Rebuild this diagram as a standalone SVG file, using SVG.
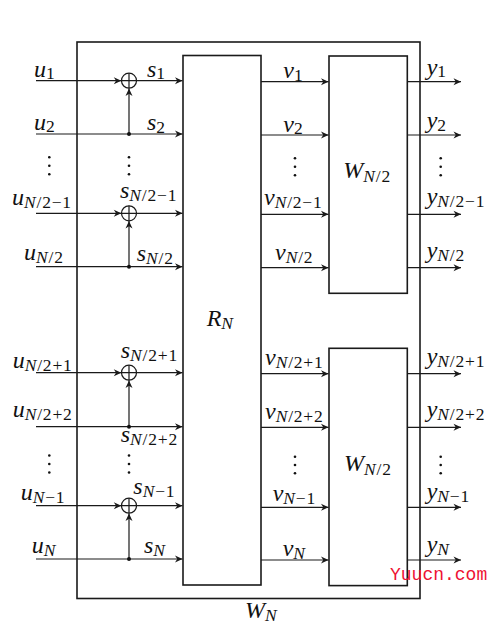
<svg xmlns="http://www.w3.org/2000/svg" width="499" height="629" viewBox="0 0 499 629">
<style>
.box{fill:none;stroke:#1a1a1a;stroke-width:1.6}
.ln{fill:none;stroke:#1a1a1a;stroke-width:1.2}
.ar{marker-end:url(#arr)}
text.t{font-family:'Liberation Serif',serif;font-size:24px;font-style:italic;fill:#111}
tspan.s{font-size:17.5px;font-style:normal;letter-spacing:0.8px}
tspan.si{font-size:17.5px;font-style:italic;letter-spacing:0.8px}
.dot{fill:#111}
text.wm{font-family:'Liberation Mono',monospace;font-size:18px;fill:#ee1133}
</style>
<defs>
<marker id="arr" markerUnits="userSpaceOnUse" markerWidth="10" markerHeight="10" viewBox="-7 -4 8 8" refX="0" refY="0" orient="auto">
<path d="M0,0 L-6,-2.8 L-4.2,0 L-6,2.8 Z" fill="#1a1a1a"/>
</marker>
</defs>

<g id="WN">
<rect class="box" x="77" y="42" width="343" height="556.5"/>
<text class="t" x="245" y="618">W<tspan class="si" dy="3">N</tspan></text>
</g>
<g id="RN">
<rect class="box" x="183" y="55.5" width="78" height="529.5"/>
<text class="t" x="206.7" y="326">R<tspan class="si" dy="3">N</tspan></text>
</g>
<g id="W1">
<rect class="box" x="329" y="56" width="78.3" height="237.3"/>
<text class="t" x="343.3" y="178.3">W<tspan class="si" dy="4">N</tspan><tspan class="s">/2</tspan></text>
</g>
<g id="W2">
<rect class="box" x="329" y="348.3" width="78.3" height="237.3"/>
<text class="t" x="344" y="471">W<tspan class="si" dy="4">N</tspan><tspan class="s">/2</tspan></text>
</g>

<g id="xor1"><circle class="ln" cx="129" cy="80.7" r="7.5"/><path class="ln" d="M121.5,80.7 H136.5 M129,73.2 V88.2"/></g>
<g id="xor2"><circle class="ln" cx="129" cy="213.3" r="7.5"/><path class="ln" d="M121.5,213.3 H136.5 M129,205.8 V220.8"/></g>
<g id="xor3"><circle class="ln" cx="129" cy="372.7" r="7.5"/><path class="ln" d="M121.5,372.7 H136.5 M129,365.2 V380.2"/></g>
<g id="xor4"><circle class="ln" cx="129" cy="505.7" r="7.5"/><path class="ln" d="M121.5,505.7 H136.5 M129,498.2 V513.2"/></g>

<g id="connectors">
<path class="ln ar" d="M36,80.7 H121.3"/>
<path class="ln ar" d="M136.5,80.7 H182.5"/>
<path class="ln ar" d="M36,134 H182.5"/>
<path class="ln ar" d="M129,134 V88.4"/>
<circle class="dot" cx="129" cy="134" r="2"/>

<path class="ln ar" d="M36,213.3 H121.3"/>
<path class="ln ar" d="M136.5,213.3 H182.5"/>
<path class="ln ar" d="M36,266.7 H182.5"/>
<path class="ln ar" d="M129,266.7 V221"/>
<circle class="dot" cx="129" cy="266.7" r="2"/>

<path class="ln ar" d="M36,372.7 H121.3"/>
<path class="ln ar" d="M136.5,372.7 H182.5"/>
<path class="ln ar" d="M36,426.7 H182.5"/>
<path class="ln ar" d="M129,426.7 V380.4"/>
<circle class="dot" cx="129" cy="426.7" r="2"/>

<path class="ln ar" d="M36,505.7 H121.3"/>
<path class="ln ar" d="M136.5,505.7 H182.5"/>
<path class="ln ar" d="M36,559 H182.5"/>
<path class="ln ar" d="M129,559 V513.4"/>
<circle class="dot" cx="129" cy="559" r="2"/>

<path class="ln ar" d="M261,81.7 H328.5"/>
<path class="ln ar" d="M261,135 H328.5"/>
<path class="ln ar" d="M261,214.3 H328.5"/>
<path class="ln ar" d="M261,267.7 H328.5"/>
<path class="ln ar" d="M261,373.7 H328.5"/>
<path class="ln ar" d="M261,427.3 H328.5"/>
<path class="ln ar" d="M261,507.3 H328.5"/>
<path class="ln ar" d="M261,560 H328.5"/>

<path class="ln ar" d="M407.3,81.7 H461"/>
<path class="ln ar" d="M407.3,135 H461"/>
<path class="ln ar" d="M407.3,214.3 H461"/>
<path class="ln ar" d="M407.3,267.7 H461"/>
<path class="ln ar" d="M407.3,373.7 H461"/>
<path class="ln ar" d="M407.3,427.3 H461"/>
<path class="ln ar" d="M407.3,507.3 H461"/>
<path class="ln ar" d="M407.3,560 H461"/>
</g>

<g id="dots">
<circle class="dot" cx="49.3" cy="157.3" r="1.3"/><circle class="dot" cx="49.3" cy="165.8" r="1.3"/><circle class="dot" cx="49.3" cy="174.3" r="1.3"/>
<circle class="dot" cx="129" cy="157.3" r="1.3"/><circle class="dot" cx="129" cy="165.8" r="1.3"/><circle class="dot" cx="129" cy="174.3" r="1.3"/>
<circle class="dot" cx="295" cy="158.3" r="1.3"/><circle class="dot" cx="295" cy="166.8" r="1.3"/><circle class="dot" cx="295" cy="175.3" r="1.3"/>
<circle class="dot" cx="440.7" cy="158.3" r="1.3"/><circle class="dot" cx="440.7" cy="166.8" r="1.3"/><circle class="dot" cx="440.7" cy="175.3" r="1.3"/>
<circle class="dot" cx="49.3" cy="455.5" r="1.3"/><circle class="dot" cx="49.3" cy="464" r="1.3"/><circle class="dot" cx="49.3" cy="472.5" r="1.3"/>
<circle class="dot" cx="129" cy="455.5" r="1.3"/><circle class="dot" cx="129" cy="464" r="1.3"/><circle class="dot" cx="129" cy="472.5" r="1.3"/>
<circle class="dot" cx="295" cy="456.7" r="1.3"/><circle class="dot" cx="295" cy="465" r="1.3"/><circle class="dot" cx="295" cy="473.3" r="1.3"/>
<circle class="dot" cx="440.7" cy="456.7" r="1.3"/><circle class="dot" cx="440.7" cy="465" r="1.3"/><circle class="dot" cx="440.7" cy="473.3" r="1.3"/>
</g>

<g id="labels">
<text class="t" x="34" y="76.5">u<tspan class="s" dy="2.5">1</tspan></text>
<text class="t" x="34" y="129.5">u<tspan class="s" dy="2.5">2</tspan></text>
<text class="t" x="12" y="205">u<tspan class="si" dy="3">N</tspan><tspan class="s">/2−1</tspan></text>
<text class="t" x="24" y="260">u<tspan class="si" dy="3">N</tspan><tspan class="s">/2</tspan></text>
<text class="t" x="12.7" y="368">u<tspan class="si" dy="3">N</tspan><tspan class="s">/2+1</tspan></text>
<text class="t" x="12.7" y="417.3">u<tspan class="si" dy="3">N</tspan><tspan class="s">/2+2</tspan></text>
<text class="t" x="20.7" y="500">u<tspan class="si" dy="3">N</tspan><tspan class="s">−1</tspan></text>
<text class="t" x="31.7" y="553.3">u<tspan class="si" dy="3">N</tspan></text>

<text class="t" x="147" y="76.5">s<tspan class="s" dy="2.5">1</tspan></text>
<text class="t" x="147" y="130">s<tspan class="s" dy="2.5">2</tspan></text>
<text class="t" x="120" y="198.3">s<tspan class="si" dy="3">N</tspan><tspan class="s">/2−1</tspan></text>
<text class="t" x="136.7" y="260.5">s<tspan class="si" dy="3">N</tspan><tspan class="s">/2</tspan></text>
<text class="t" x="120.7" y="358.3">s<tspan class="si" dy="3">N</tspan><tspan class="s">/2+1</tspan></text>
<text class="t" x="120.7" y="441.5">s<tspan class="si" dy="3">N</tspan><tspan class="s">/2+2</tspan></text>
<text class="t" x="133.3" y="494.3">s<tspan class="si" dy="3">N</tspan><tspan class="s">−1</tspan></text>
<text class="t" x="144" y="553.3">s<tspan class="si" dy="3">N</tspan></text>

<text class="t" x="283.3" y="78">v<tspan class="s" dy="2.5">1</tspan></text>
<text class="t" x="283.3" y="131.5">v<tspan class="s" dy="2.5">2</tspan></text>
<text class="t" x="264" y="205">v<tspan class="si" dy="3">N</tspan><tspan class="s">/2−1</tspan></text>
<text class="t" x="275" y="260">v<tspan class="si" dy="3">N</tspan><tspan class="s">/2</tspan></text>
<text class="t" x="265" y="365">v<tspan class="si" dy="3">N</tspan><tspan class="s">/2+1</tspan></text>
<text class="t" x="265" y="418.5">v<tspan class="si" dy="3">N</tspan><tspan class="s">/2+2</tspan></text>
<text class="t" x="272.7" y="501">v<tspan class="si" dy="3">N</tspan><tspan class="s">−1</tspan></text>
<text class="t" x="282.7" y="556">v<tspan class="si" dy="3">N</tspan></text>

<text class="t" x="426.7" y="74.5">y<tspan class="s" dy="2.5">1</tspan></text>
<text class="t" x="426.7" y="128">y<tspan class="s" dy="2.5">2</tspan></text>
<text class="t" x="426.7" y="204">y<tspan class="si" dy="3">N</tspan><tspan class="s">/2−1</tspan></text>
<text class="t" x="426.7" y="257.5">y<tspan class="si" dy="3">N</tspan><tspan class="s">/2</tspan></text>
<text class="t" x="426.7" y="363.5">y<tspan class="si" dy="3">N</tspan><tspan class="s">/2+1</tspan></text>
<text class="t" x="426.7" y="417">y<tspan class="si" dy="3">N</tspan><tspan class="s">/2+2</tspan></text>
<text class="t" x="426.7" y="499">y<tspan class="si" dy="3">N</tspan><tspan class="s">−1</tspan></text>
<text class="t" x="426.7" y="552">y<tspan class="si" dy="3">N</tspan></text>
</g>

<text class="wm" x="390" y="580">Yuucn.com</text>
</svg>
